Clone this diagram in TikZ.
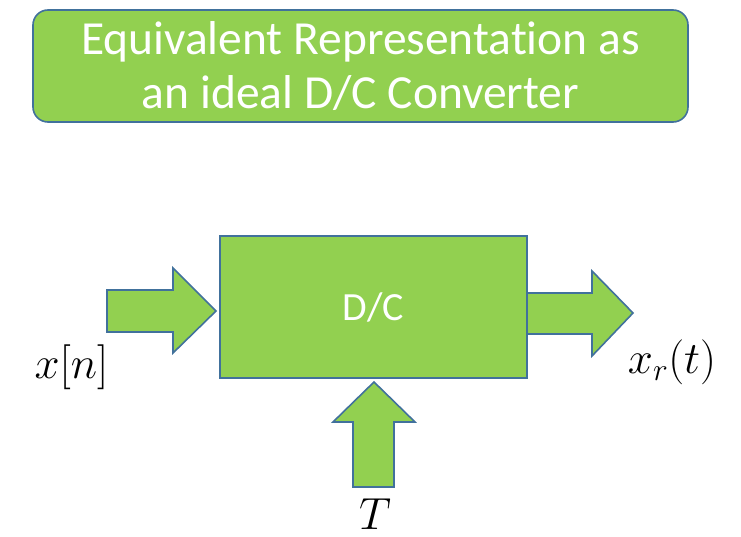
\RequirePackage{fix-cm}
\documentclass[tikz,border=0pt]{standalone}
\usepackage{fontspec}
\setmainfont{Carlito}[Ligatures=NoCommon]
\definecolor{blkfill}{HTML}{92D050}
\definecolor{blkline}{HTML}{41719C}
\begin{document}
\begin{tikzpicture}[x=1pt,y=-1pt,
  blk/.style={draw=blkline, fill=blkfill, line width=1.6pt},
  titlebox/.style={blk, rounded corners=15pt, text=white, align=center, inner sep=0pt},
  dcbox/.style={blk, text=white, inner sep=0pt},
  lbl/.style={inner sep=0pt, font=\fontsize{45}{50}\selectfont}]
\useasboundingbox (0,0) rectangle (741,537);
\node[titlebox, minimum width=655pt, minimum height=112pt,
      font=\fontsize{47.5}{54}\selectfont] (title) at (360.5,66) {Equivalent Representation as\\an ideal D/C Converter};
% block arrows
\draw[blk, line join=miter] (107,290) -- (173,290) -- (173,268) -- (216,311) -- (173,353) -- (173,332) -- (107,332) -- cycle;
\draw[blk, line join=miter] (526,293) -- (592,293) -- (592,271) -- (633,313) -- (592,356) -- (592,334) -- (526,334) -- cycle;
\draw[blk, line join=miter] (374,382) -- (415,422) -- (394,422) -- (394,487) -- (353,487) -- (353,422) -- (333,422) -- cycle;
\node[dcbox, minimum width=307pt, minimum height=142pt,
      font=\fontsize{40}{46}\selectfont] (dc) at (373.5,307) {D/C};
\node[lbl] (xn) at (71.5,367.5) {$x[n]$};
\node[lbl] (xr) at (672,362) {$x_r(t)$};
\node[lbl] (T) at (375,514) {$T$};
\end{tikzpicture}
\end{document}
